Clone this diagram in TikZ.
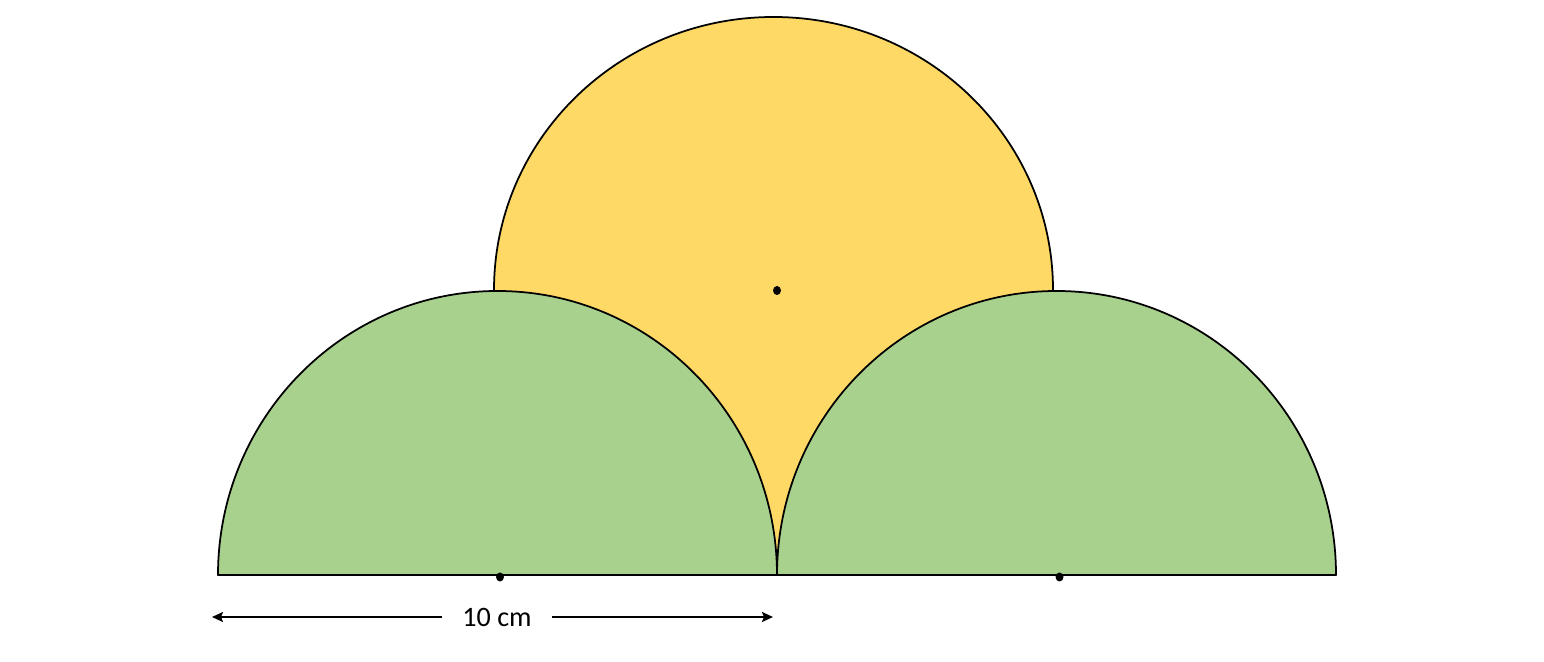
\documentclass[tikz,border=0pt]{standalone}
\usepackage{fontspec}
\setmainfont{Carlito}
\usetikzlibrary{arrows.meta}
\definecolor{sungold}{HTML}{FFD966}
\definecolor{leafgreen}{HTML}{A9D18E}
\tikzset{
  outline/.style={draw=black,line width=1pt,line join=round},
  centerdot/.style={ellipse,fill=black,inner sep=0pt,minimum width=0.16cm,minimum height=0.18cm},
  dimline/.style={line width=1.1pt,-{Stealth[length=0.22cm,width=0.2cm,inset=0.04cm]}},
  dimlabel/.style={inner xsep=0.40cm,inner ysep=2pt,font=\fontsize{16pt}{19pt}\selectfont}
}
\usetikzlibrary{shapes.geometric}
\begin{document}
\begin{tikzpicture}[x=0.02cm,y=0.02cm]
\useasboundingbox (0,0) rectangle (1544,662);
% yellow semicircle (top) with body behind the greens
\path[outline,fill=sungold] (494,87) -- (494,372)
  arc[start angle=180,end angle=0,x radius=279.5,y radius=273] -- (1053,87) -- cycle;
% green semicircles
\path[outline,fill=leafgreen] (218,87)
  arc[start angle=180,end angle=0,x radius=279.5,y radius=284] -- cycle;
\path[outline,fill=leafgreen] (777,87)
  arc[start angle=180,end angle=0,x radius=279.5,y radius=284] -- cycle;
\draw[line width=1.3pt] (218,87) -- (1336,87);
% centres
\node[centerdot] (cy) at (777,371.5) {};
\node[centerdot] (cl) at (500,85) {};
\node[centerdot] (cr) at (1059.5,85) {};
% dimension
\coordinate (arrL) at (212,45);
\coordinate (arrR) at (773,45);
\node[dimlabel] (lbl) at (497,45) {10 cm};
\draw[dimline] (lbl.west) -- (arrL);
\draw[dimline] (lbl.east) -- (arrR);
\end{tikzpicture}
\end{document}
